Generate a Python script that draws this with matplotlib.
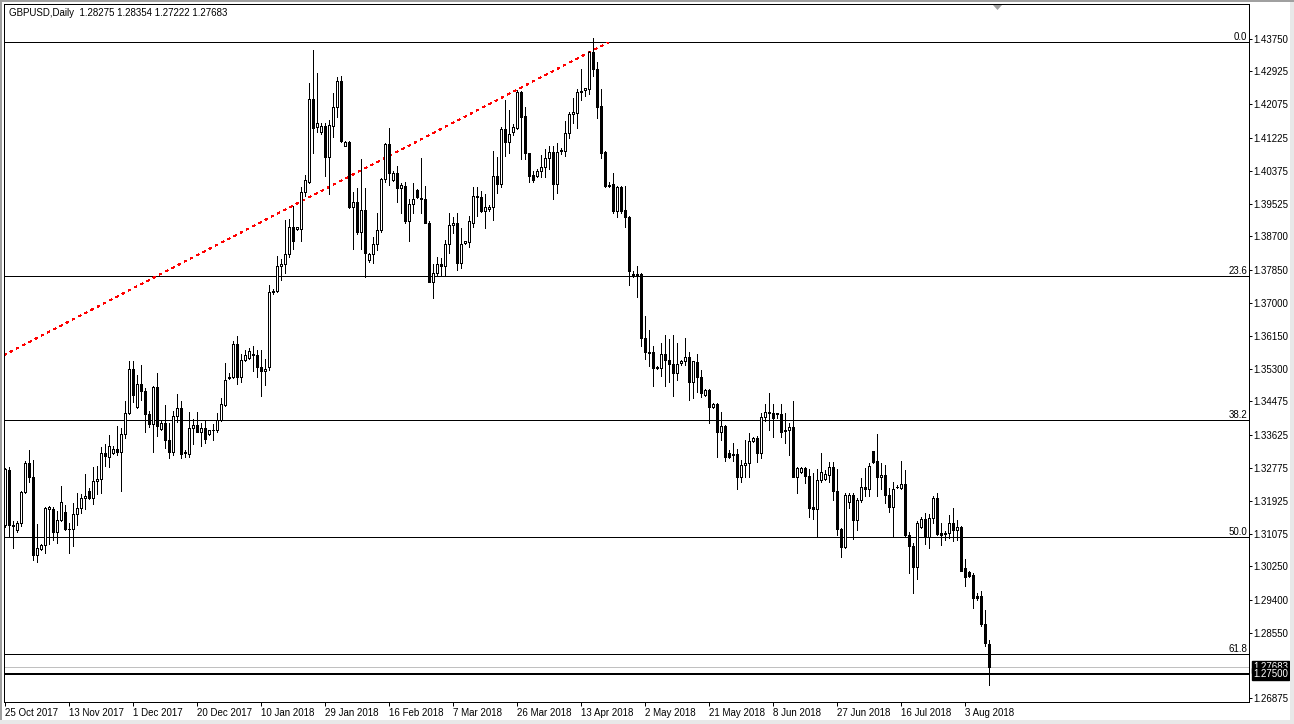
import matplotlib
matplotlib.use("Agg")
import matplotlib.pyplot as plt
from matplotlib.patches import Rectangle, Polygon
from matplotlib.collections import LineCollection
from matplotlib.transforms import blended_transform_factory
import numpy as np

title_text = "GBPUSD,Daily  1.28275 1.28354 1.27222 1.27683"

opens = [1.3131,1.3271,1.3131,1.3118,1.3135,1.3215,1.3289,1.3255,1.3054,1.3070,
         1.3079,1.3172,1.3172,1.3112,1.3143,1.3164,1.3120,1.3120,1.3158,1.3175,
         1.3199,1.3218,1.3199,1.3244,1.3248,1.3315,1.3304,1.3315,1.3325,1.3319,
         1.3364,1.3417,1.3530,1.3432,1.3491,1.3473,1.3414,1.3390,1.3483,1.3376,
         1.3391,1.3348,1.3319,1.3409,1.3431,1.3315,1.3314,1.3379,1.3387,1.3370,
         1.3379,1.3363,1.3373,1.3373,1.3401,1.3438,1.3507,1.3509,1.3594,1.3511,
         1.3553,1.3558,1.3570,1.3565,1.3535,1.3525,1.3535,1.3728,1.3731,1.3793,
         1.3798,1.3824,1.3893,1.3890,1.3890,1.3984,1.4010,1.4221,1.4149,1.4138,
         1.4153,1.4072,1.4153,1.4200,1.4268,1.4101,1.4111,1.3944,1.3957,1.3880,
         1.3938,1.3810,1.3825,1.3851,1.3887,1.4016,1.4106,1.4014,1.4031,1.3993,
         1.4000,1.3909,1.3953,1.3989,1.3968,1.3965,1.3905,1.3754,1.3776,1.3799,
         1.3795,1.3851,1.3899,1.3905,1.3803,1.3852,1.3855,1.3905,1.3970,1.3970,
         1.3936,1.3939,1.3944,1.4025,1.4003,1.4144,1.4112,1.4138,1.4148,1.4240,
         1.4178,1.4083,1.4027,1.4025,1.4038,1.4047,1.4070,1.4087,1.4004,1.4089,
         1.4089,1.4134,1.4183,1.4187,1.4239,1.4245,1.4246,1.4343,1.4298,1.4204,
         1.4086,1.3999,1.4004,1.3936,1.3995,1.3938,1.3919,1.3774,1.3773,1.3773,
         1.3609,1.3575,1.3573,1.3535,1.3532,1.3569,1.3554,1.3544,1.3521,1.3545,
         1.3550,1.3561,1.3498,1.3548,1.3511,1.3464,1.3477,1.3433,1.3441,1.3370,
         1.3385,1.3315,1.3313,1.3313,1.3254,1.3284,1.3289,1.3346,1.3353,1.3316,
         1.3407,1.3419,1.3417,1.3417,1.3414,1.3374,1.3373,1.3381,1.3253,1.3266,
         1.3276,1.3257,1.3176,1.3171,1.3246,1.3248,1.3259,1.3279,1.3219,1.3120,
         1.3074,1.3191,1.3208,1.3144,1.3195,1.3228,1.3222,1.3320,1.3295,1.3253,
         1.3259,1.3208,1.3178,1.3229,1.3227,1.3235,1.3106,1.3076,1.3023,1.3127,
         1.3147,1.3101,1.3148,1.3199,1.3111,1.3108,1.3111,1.3135,1.3117,1.3127,
         1.3020,1.3010,1.3003,1.2948,1.2948,1.2877,1.28275]
highs = [1.3278,1.3280,1.3140,1.3141,1.3217,1.3295,1.3323,1.3298,1.3133,1.3082,
         1.3178,1.3180,1.3176,1.3167,1.3231,1.3182,1.3135,1.3188,1.3214,1.3210,
         1.3261,1.3225,1.3279,1.3283,1.3331,1.3338,1.3361,1.3332,1.3385,1.3379,
         1.3449,1.3552,1.3552,1.3515,1.3541,1.3483,1.3423,1.3487,1.3519,1.3396,
         1.3438,1.3391,1.3423,1.3466,1.3449,1.3323,1.3420,1.3402,1.3420,1.3391,
         1.3398,1.3375,1.3389,1.3417,1.3455,1.3545,1.3519,1.3602,1.3615,1.3568,
         1.3579,1.3585,1.3590,1.3580,1.3580,1.3555,1.3746,1.3735,1.3820,1.3811,
         1.3912,1.3915,1.3948,1.3895,1.3997,1.4027,1.4263,1.4347,1.4287,1.4159,
         1.4159,1.4168,1.4236,1.4279,1.4280,1.4115,1.4115,1.3983,1.3995,1.4068,
         1.3993,1.3827,1.3869,1.3929,1.4019,1.4108,1.4147,1.4036,1.4050,1.4006,
         1.4008,1.3965,1.4006,1.3990,1.4070,1.4000,1.3908,1.3799,1.3818,1.3814,
         1.3861,1.3931,1.3919,1.3929,1.3891,1.3859,1.3921,1.3997,1.3997,1.3985,
         1.3979,1.3950,1.4089,1.4074,1.4151,1.4219,1.4193,1.4158,1.4245,1.4242,
         1.4200,1.4084,1.4038,1.4042,1.4078,1.4093,1.4100,1.4101,1.4108,1.4095,
         1.4166,1.4189,1.4223,1.4246,1.4298,1.4251,1.4345,1.4377,1.4316,1.4246,
         1.4089,1.4008,1.4033,1.3999,1.3999,1.3999,1.3921,1.3782,1.3794,1.3776,
         1.3666,1.3631,1.3588,1.3538,1.3596,1.3618,1.3607,1.3618,1.3596,1.3554,
         1.3609,1.3573,1.3552,1.3569,1.3528,1.3479,1.3479,1.3444,1.3443,1.3421,
         1.3386,1.3322,1.3342,1.3325,1.3298,1.3349,1.3366,1.3356,1.3359,1.3419,
         1.3442,1.3470,1.3441,1.3419,1.3442,1.3417,1.3391,1.3449,1.3279,1.3279,
         1.3279,1.3274,1.3263,1.3274,1.3316,1.3272,1.3293,1.3293,1.3274,1.3123,
         1.3212,1.3212,1.3212,1.3199,1.3251,1.3276,1.3289,1.3321,1.3364,1.3289,
         1.3285,1.3225,1.3240,1.3233,1.3296,1.3272,1.3112,1.3084,1.3142,1.3151,
         1.3163,1.3159,1.3204,1.3212,1.3135,1.3115,1.3157,1.3174,1.3144,1.3129,
         1.3043,1.3012,1.3007,1.2958,1.2961,1.2914,1.28354]
lows = [1.3127,1.3101,1.3071,1.3112,1.3128,1.3212,1.3242,1.3042,1.3037,1.3068,
        1.3059,1.3083,1.3093,1.3084,1.3140,1.3118,1.3060,1.3076,1.3131,1.3161,
        1.3171,1.3198,1.3185,1.3210,1.3214,1.3283,1.3279,1.3313,1.3310,1.3219,
        1.3353,1.3414,1.3447,1.3430,1.3451,1.3370,1.3382,1.3319,1.3358,1.3373,
        1.3329,1.3303,1.3310,1.3394,1.3302,1.3305,1.3305,1.3338,1.3368,1.3332,
        1.3340,1.3361,1.3349,1.3370,1.3398,1.3436,1.3505,1.3508,1.3493,1.3498,
        1.3552,1.3555,1.3525,1.3510,1.3460,1.3490,1.3528,1.3722,1.3727,1.3757,
        1.3776,1.3818,1.3838,1.3886,1.3857,1.3972,1.4006,1.4083,1.4136,1.4131,
        1.4025,1.3979,1.4124,1.4176,1.4112,1.4100,1.3942,1.3837,1.3876,1.3837,
        1.3765,1.3805,1.3801,1.3834,1.3882,1.4009,1.4002,1.4011,1.3959,1.3931,
        1.3905,1.3857,1.3929,1.3968,1.3929,1.3903,1.3752,1.3712,1.3769,1.3771,
        1.3769,1.3827,1.3878,1.3784,1.3788,1.3851,1.3842,1.3895,1.3922,1.3933,
        1.3891,1.3936,1.3912,1.3982,1.3997,1.4076,1.4084,1.4130,1.4145,1.4067,
        1.4068,1.4010,1.4010,1.4023,1.4023,1.4021,1.4042,1.3965,1.3982,1.4081,
        1.4076,1.4121,1.4161,1.4147,1.4219,1.4229,1.4234,1.4281,1.4172,1.4070,
        1.3996,1.3996,1.3931,1.3919,1.3931,1.3895,1.3746,1.3767,1.3714,1.3588,
        1.3556,1.3537,1.3486,1.3530,1.3513,1.3486,1.3498,1.3460,1.3501,1.3541,
        1.3541,1.3450,1.3456,1.3472,1.3458,1.3461,1.3392,1.3430,1.3305,1.3349,
        1.3294,1.3302,1.3296,1.3223,1.3242,1.3255,1.3253,1.3343,1.3293,1.3302,
        1.3396,1.3373,1.3356,1.3404,1.3356,1.3342,1.3309,1.3253,1.3212,1.3263,
        1.3238,1.3152,1.3146,1.3101,1.3242,1.3245,1.3242,1.3195,1.3106,1.3050,
        1.3071,1.3174,1.3095,1.3118,1.3191,1.3205,1.3204,1.3291,1.3204,1.3222,
        1.3188,1.3165,1.3101,1.3225,1.3222,1.3103,1.3009,1.2958,1.2992,1.3123,
        1.3083,1.3071,1.3136,1.3106,1.3080,1.3092,1.3097,1.3089,1.3093,1.3012,
        1.2975,1.2999,1.2918,1.2939,1.2873,1.2820,1.27222]
closes = [1.3275,1.3131,1.3128,1.3136,1.3215,1.3289,1.3255,1.3054,1.3073,1.3080,
          1.3175,1.3176,1.3112,1.3143,1.3191,1.3120,1.3122,1.3158,1.3175,1.3199,
          1.3206,1.3199,1.3244,1.3249,1.3315,1.3307,1.3333,1.3325,1.3319,1.3364,
          1.3417,1.3530,1.3464,1.3491,1.3473,1.3415,1.3390,1.3485,1.3384,1.3392,
          1.3348,1.3319,1.3409,1.3431,1.3314,1.3319,1.3379,1.3387,1.3370,1.3379,
          1.3350,1.3373,1.3374,1.3401,1.3440,1.3502,1.3511,1.3594,1.3511,1.3553,
          1.3566,1.3577,1.3565,1.3535,1.3525,1.3530,1.3727,1.3731,1.3793,1.3799,
          1.3824,1.3893,1.3857,1.3893,1.3984,1.4013,1.4221,1.4148,1.4159,1.4153,
          1.4072,1.4155,1.4200,1.4268,1.4115,1.4111,1.3944,1.3957,1.3880,1.3938,
          1.3827,1.3825,1.3851,1.3887,1.4016,1.4106,1.4033,1.4031,1.3993,1.4002,
          1.3909,1.3953,1.3965,1.3970,1.3965,1.3905,1.3754,1.3776,1.3798,1.3795,
          1.3851,1.3899,1.3905,1.3803,1.3851,1.3857,1.3908,1.3973,1.3973,1.3936,
          1.3946,1.3946,1.4025,1.4003,1.4144,1.4112,1.4132,1.4149,1.4240,1.4176,
          1.4083,1.4025,1.4013,1.4038,1.4048,1.4070,1.4087,1.4004,1.4087,1.4091,
          1.4134,1.4183,1.4189,1.4239,1.4242,1.4249,1.4343,1.4298,1.4202,1.4084,
          1.3999,1.4002,1.3936,1.3995,1.3936,1.3919,1.3780,1.3769,1.3769,1.3609,
          1.3573,1.3571,1.3532,1.3532,1.3569,1.3554,1.3544,1.3521,1.3544,1.3551,
          1.3561,1.3498,1.3550,1.3509,1.3468,1.3477,1.3433,1.3441,1.3370,1.3385,
          1.3306,1.3306,1.3309,1.3254,1.3285,1.3291,1.3347,1.3353,1.3315,1.3407,
          1.3419,1.3417,1.3404,1.3414,1.3370,1.3372,1.3381,1.3255,1.3276,1.3276,
          1.3257,1.3174,1.3171,1.3246,1.3266,1.3262,1.3279,1.3219,1.3120,1.3074,
          1.3208,1.3208,1.3144,1.3195,1.3228,1.3222,1.3282,1.3293,1.3253,1.3259,
          1.3208,1.3178,1.3222,1.3229,1.3235,1.3106,1.3076,1.3023,1.3135,1.3147,
          1.3101,1.3148,1.3199,1.3108,1.3106,1.3111,1.3135,1.3117,1.3127,1.3014,
          1.2999,1.3001,1.2943,1.2943,1.2877,1.2828,1.27683]

date_labels = ["25 Oct 2017", "13 Nov 2017", "1 Dec 2017", "20 Dec 2017", "10 Jan 2018",
               "29 Jan 2018", "16 Feb 2018", "7 Mar 2018", "26 Mar 2018", "13 Apr 2018",
               "2 May 2018", "21 May 2018", "8 Jun 2018", "27 Jun 2018", "16 Jul 2018",
               "3 Aug 2018"]
date_label_bars = [0, 16, 32, 48, 64, 80, 96, 112, 128, 144, 160, 176, 192, 208, 224, 240]

price_ticks = [1.43750, 1.42925, 1.42075, 1.41225, 1.40375, 1.39525, 1.38700, 1.37850,
               1.37000, 1.36150, 1.35300, 1.34475, 1.33625, 1.32775, 1.31925, 1.31075,
               1.30250, 1.29400, 1.28550, 1.26875]

fib_levels = [0.0, 23.6, 38.2, 50.0, 61.8]
fib_price_0 = 1.43673
fib_price_100 = 1.18327
hline_price = 1.27500
bid_price = 1.27683
trend_start = (-0.33, 1.3566)
trend_end = (150.7, 1.4366)

FONT = "Liberation Sans"
W, H = 1294, 724
fig = plt.figure(figsize=(W / 100, H / 100), dpi=100)
fig.patch.set_facecolor("white")

# axes frame in pixels: x 4..1249, y 4..702
ax = fig.add_axes([4 / W, (H - 702) / H, 1245 / W, 698 / H])
ax.set_facecolor("white")
n = len(opens)
ax.set_xlim(-0.325, (1249 - 5.3) / 4.0)
ax.set_ylim(1.267788, 1.446476)

PX = 0.72  # one pixel in points

# fib lines
bt = blended_transform_factory(ax.transAxes, ax.transData)
for lvl in fib_levels:
    p = fib_price_0 - lvl / 100.0 * (fib_price_0 - fib_price_100)
    ax.axhline(p, color="black", lw=PX, antialiased=False, zorder=1)
    ax.text(1 - 2 / 1245, p, f"{lvl:.1f}", transform=bt,
            ha="right", va="bottom", fontsize=7, family=FONT, color="black", zorder=5)

ax.axhline(bid_price, color="#C0C0C0", lw=PX, antialiased=False, zorder=1)
ax.axhline(hline_price, color="black", lw=2 * PX, antialiased=False, zorder=1)

# trend line (red dotted)
ax.plot([trend_start[0], trend_end[0]], [trend_start[1], trend_end[1]], color="red",
        lw=PX, dashes=(2.2, 4.6), antialiased=False, zorder=2)

# candles
segs = [[(i, lows[i]), (i, highs[i])] for i in range(n)]
ax.add_collection(LineCollection(segs, colors="black", linewidths=PX, antialiaseds=False, zorder=3))
for i in range(n):
    o, c = opens[i], closes[i]
    bottom = min(o, c)
    h = abs(c - o)
    fc = "white" if c >= o else "black"
    ax.add_patch(Rectangle((i - 0.25, bottom), 0.5, h, facecolor=fc, edgecolor="black",
                           lw=PX, antialiased=False, zorder=4))

# axes styling
for s in ax.spines.values():
    s.set_color("black")
    s.set_linewidth(PX)
ax.yaxis.tick_right()
ax.set_yticks(price_ticks)
ax.set_yticklabels([f"{v:.5f}" for v in price_ticks], family=FONT, fontsize=7)
ax.tick_params(axis="y", length=3 * PX, width=PX, pad=1.0, colors="black")
ax.set_xticks(date_label_bars)
ax.set_xticklabels(date_labels, family=FONT, fontsize=7)
for lbl in ax.get_xticklabels():
    lbl.set_ha("left")
ax.tick_params(axis="x", length=4 * PX, width=PX, pad=1.5, colors="black")

# price boxes (bid and horizontal-line labels)
for val in [bid_price, hline_price]:
    ax.text(1 + 4 / 1245, val, f"{val:.5f}", transform=bt, ha="left", va="center", fontsize=7,
            family=FONT, color="white", clip_on=False, zorder=10,
            bbox=dict(boxstyle="square,pad=0.1", fc="black", ec="black"))

# header
fig.text(9 / W, 1 - 13 / H, title_text, ha="left", va="center", fontsize=7, family=FONT, color="black")

# window borders and shift marker
def px_rect(x0, y0, w, h, color):
    fig.add_artist(Rectangle((x0 / W, 1 - (y0 + h) / H), w / W, h / H, transform=fig.transFigure,
                             facecolor=color, edgecolor="none", zorder=20))

px_rect(0, 0, 1.5, H, "#A0A0A0")
px_rect(1290, 0, 4, H, "#E8E8E8")
px_rect(0, 720, W, 4, "#E8E8E8")
px_rect(0, 0, W, 1.5, "#A0A0A0")
fig.add_artist(Polygon([(993 / W, 1 - 5 / H), (1002 / W, 1 - 5 / H), (997.5 / W, 1 - 10 / H)],
                       closed=True, transform=fig.transFigure, facecolor="#A0A0A0", edgecolor="none", zorder=20))

fig.savefig("out.png", dpi=100, facecolor="white")
